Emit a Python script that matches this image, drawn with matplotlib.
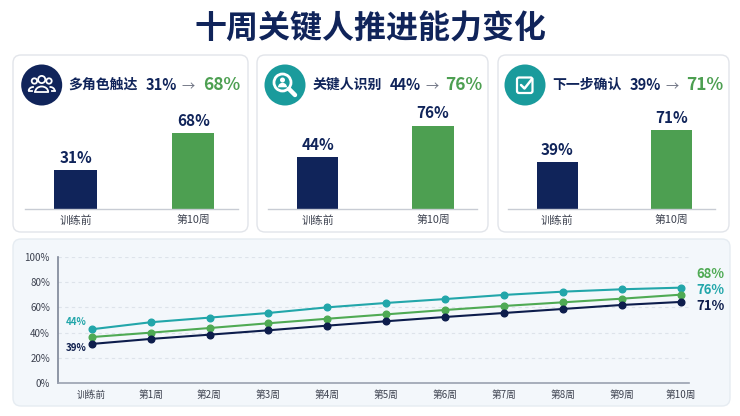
import matplotlib
matplotlib.use("Agg")
import matplotlib.pyplot as plt
from matplotlib.patches import FancyBboxPatch, Circle, Arc, Wedge
from matplotlib.transforms import offset_copy

plt.rcParams['font.family'] = ['Noto Sans CJK SC', 'DejaVu Sans']

# ---- data ----
title = "十周关键人推进能力变化"
metric_names = ["多角色触达", "关键人识别", "下一步确认"]
before_vals = [31, 44, 39]
after_vals = [68, 76, 71]
bar_labels = ["训练前", "第10周"]

weeks = ["训练前", "第1周", "第2周", "第3周", "第4周", "第5周",
         "第6周", "第7周", "第8周", "第9周", "第10周"]
teal_line = [42.6, 48.2, 51.9, 55.6, 60.1, 63.6, 66.7, 70.0, 72.6, 74.5, 75.8]
green_line = [36.4, 39.9, 43.6, 47.4, 51.0, 54.5, 58.0, 61.2, 64.1, 67.0, 70.2]
navy_line = [30.9, 34.9, 38.3, 41.8, 45.5, 49.0, 52.4, 55.6, 58.8, 62.0, 64.4]

# ---- style ----
NAVY = "#10245a"
GREEN = "#4d9f51"
TEAL = "#1c9ea2"
LINE_TEAL = "#22a6aa"
LINE_GREEN = "#4faa54"
LINE_NAVY = "#0d1d4c"
GRAY_TXT = "#3d4250"

W, H = 740, 416
fig = plt.figure(figsize=(W / 100, H / 100), dpi=100)
fig.patch.set_facecolor("white")


def px_axes(x0, y0, x1, y1):
    return fig.add_axes([x0 / W, 1 - y1 / H, (x1 - x0) / W, (y1 - y0) / H])


bg = fig.add_axes([0, 0, 1, 1], zorder=-1)
bg.set_xlim(0, W)
bg.set_ylim(H, 0)
bg.axis("off")

bg.text(370, 30, title, ha="center", va="center", fontsize=23,
        fontweight="bold", color=NAVY)

# cards
cards = [(13, 55, 235, 177), (257, 55, 231, 177), (498, 55, 231, 177)]
for (cx, cy, cw, ch) in cards:
    bg.add_patch(FancyBboxPatch((cx, cy), cw, ch,
                                boxstyle="round,pad=0,rounding_size=8",
                                fc="white", ec="#e2e5ea", lw=1))
bg.add_patch(FancyBboxPatch((13, 239), 717, 167,
                            boxstyle="round,pad=0,rounding_size=8",
                            fc="#f3f7fb", ec="#e6ecf2", lw=1))

# icons
icon_centers = [(41.7, 85), (285, 85), (525, 85)]
icon_colors = [NAVY, "#1a9b9c", "#1a9b9c"]
for (ix, iy), c in zip(icon_centers, icon_colors):
    bg.add_patch(Circle((ix, iy), 20.5, fc=c, ec="none"))

# people icon
ix, iy = icon_centers[0]
wkw = dict(fill=False, ec="white", lw=1.3)
bg.add_patch(Circle((ix, iy - 5.5), 3.6, **wkw))
bg.add_patch(Circle((ix - 7.3, iy - 4), 2.7, **wkw))
bg.add_patch(Circle((ix + 7.3, iy - 4), 2.7, **wkw))
bg.add_patch(Arc((ix, iy + 7), 13, 11, theta1=180, theta2=360, color="white", lw=1.3))
bg.plot([ix - 6.5, ix + 6.5], [iy + 7, iy + 7], color="white", lw=1.3)
bg.add_patch(Arc((ix - 8.5, iy + 6), 9, 8, theta1=180, theta2=280, color="white", lw=1.3))
bg.add_patch(Arc((ix + 8.5, iy + 6), 9, 8, theta1=260, theta2=360, color="white", lw=1.3))
bg.plot([ix - 13, ix - 10], [iy + 6, iy + 6], color="white", lw=1.3)
bg.plot([ix + 10, ix + 13], [iy + 6, iy + 6], color="white", lw=1.3)

# magnifier icon
ix, iy = icon_centers[1]
bg.add_patch(Circle((ix - 2.5, iy - 2.5), 8.5, fill=False, ec="white", lw=2))
bg.plot([ix + 3.8, ix + 10], [iy + 3.8, iy + 10], color="white", lw=3.2,
        solid_capstyle="round")
bg.add_patch(Circle((ix - 2.5, iy - 5), 2.5, fc="white", ec="none"))
bg.add_patch(Wedge((ix - 2.5, iy + 2.3), 4.5, 180, 360, fc="white", ec="none"))

# checkbox icon
ix, iy = icon_centers[2]
bg.add_patch(FancyBboxPatch((ix - 8, iy - 7.5), 15.5, 15.5,
                            boxstyle="round,pad=0,rounding_size=2",
                            fill=False, ec="white", lw=1.6))
bg.plot([ix - 4, ix - 0.5, ix + 7], [iy, iy + 3.5, iy - 6], color="white", lw=1.8,
        solid_capstyle="round", solid_joinstyle="round")

# card headers
name_x = [68, 312.7, 552.7]
before_x = [145.7, 390, 630]
arrow_x = [181.7, 425, 665]
after_x = [203, 445, 686]
for i in range(3):
    bg.text(name_x[i], 85, metric_names[i], ha="left", va="center",
            fontsize=10, fontweight="bold", color=NAVY)
    bg.text(before_x[i], 85, f"{before_vals[i]}%", ha="left", va="center",
            fontsize=10.5, fontweight="bold", color=NAVY)
    bg.text(arrow_x[i], 87.5, "→", ha="left", va="center",
            fontsize=9.5, color="#6b7080")
    bg.text(after_x[i], 84.5, f"{after_vals[i]}%", ha="left", va="center",
            fontsize=12.5, fontweight="bold", color=GREEN)

# bar charts
bar_spans = [(25, 238), (268, 477), (508, 715)]
BASE = -9
for i, (x0, x1) in enumerate(bar_spans):
    ax = px_axes(x0, 95, x1, 209.3)
    vals = [before_vals[i], after_vals[i]]
    heights = [v - BASE for v in vals]
    bars = ax.bar([0, 1], heights, bottom=BASE, width=0.36,
                  color=[NAVY, GREEN], zorder=2)
    for b, v in zip(bars, vals):
        ax.annotate(f"{v}%", (b.get_x() + b.get_width() / 2, v),
                    xytext=(0, 3), textcoords="offset points",
                    ha="center", va="bottom", fontsize=11,
                    fontweight="bold", color=NAVY)
    ax.set_xlim(-0.43, 1.38)
    ax.set_ylim(BASE, 107)
    ax.set_xticks([0, 1])
    ax.set_xticklabels(bar_labels, fontsize=7.8, color=GRAY_TXT)
    ax.tick_params(axis="x", length=0, pad=4)
    ax.set_yticks([])
    for s in ["top", "right", "left"]:
        ax.spines[s].set_visible(False)
    ax.spines["bottom"].set_color("#c8ccd4")
    ax.spines["bottom"].set_linewidth(1)
    ax.patch.set_alpha(0)

# line chart
lx = px_axes(58.3, 257.3, 689, 382.7)
lx.patch.set_alpha(0)
xs = list(range(len(weeks)))
for vals, c in [(teal_line, LINE_TEAL), (green_line, LINE_GREEN), (navy_line, LINE_NAVY)]:
    lx.plot(xs, vals, color=c, lw=1.5, marker="o", markersize=4.8, zorder=3)
lx.set_xlim(-0.567, 10.14)
lx.set_ylim(0, 100)
lx.set_yticks([0, 20, 40, 60, 80, 100])
lx.set_yticklabels([f"{v}%" for v in [0, 20, 40, 60, 80, 100]], fontsize=7, color=GRAY_TXT)
lx.set_xticks(xs)
lx.set_xticklabels(weeks, fontsize=7, color=GRAY_TXT)
lx.tick_params(axis="y", length=0, pad=6)
lx.tick_params(axis="x", length=0, pad=5.5)
lx.grid(axis="y", color="#dde3ea", lw=0.8, ls=(0, (3, 3)))
lx.set_axisbelow(True)
for s in ["top", "right"]:
    lx.spines[s].set_visible(False)
lx.spines["left"].set_color("#7d8597")
lx.spines["left"].set_linewidth(1.2)
lx.spines["bottom"].set_color("#9aa1b0")
lx.spines["bottom"].set_linewidth(1.2)

# start labels (teal = 关键人识别, navy = 下一步确认)
lx.annotate(f"{before_vals[1]}%", (0, teal_line[0]), xytext=(-4, 5.5),
            textcoords="offset points", ha="right", va="center",
            fontsize=7, color=LINE_TEAL, fontweight="bold")
lx.annotate(f"{before_vals[2]}%", (0, navy_line[0]), xytext=(-4, -2.7),
            textcoords="offset points", ha="right", va="center",
            fontsize=7, color=LINE_NAVY, fontweight="bold")

# end labels
end_labels = [(f"{after_vals[0]}%", LINE_GREEN), (f"{after_vals[1]}%", LINE_TEAL),
              (f"{after_vals[2]}%", LINE_NAVY)]
for k, (txt, c) in enumerate(end_labels):
    tr = offset_copy(lx.transData, fig=fig, x=0, y=-k * 16 * 0.72, units="points")
    lx.text(10.26, 86.7, txt, transform=tr, ha="left", va="center",
            fontsize=9.5, fontweight="bold", color=c, clip_on=False)

fig.savefig("out.png", dpi=100)
